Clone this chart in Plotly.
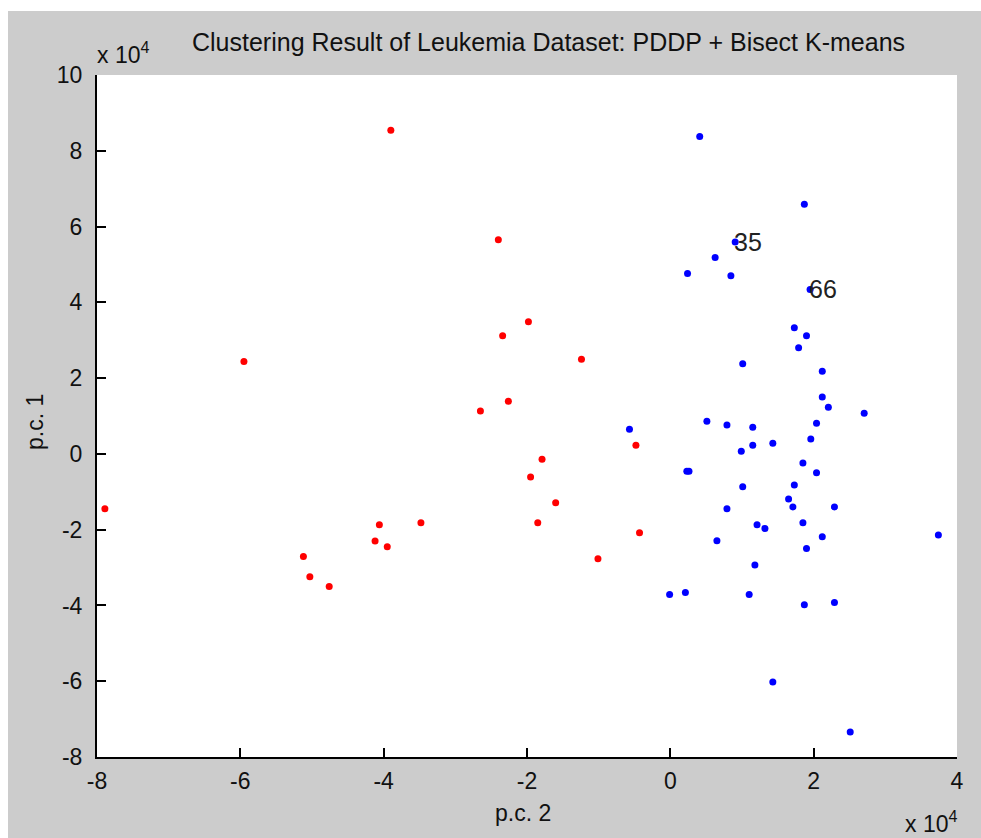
import plotly.graph_objects as go

# Leukemia samples projected on the first two principal components
# red: cluster 1, blue: cluster 2 (PDDP + bisecting K-means)
red_pc2 = [-3.90, -5.95, -7.89, -4.06, -4.12, -3.95, -5.12, -5.03, -4.76,
           -2.40, -1.98, -2.34, -1.24, -2.26, -2.65, -0.48, -1.79, -1.95,
           -1.60, -3.48, -1.85, -0.43, -1.01]
red_pc1 = [8.54, 2.44, -1.45, -1.87, -2.30, -2.45, -2.71, -3.24, -3.50,
           5.65, 3.49, 3.12, 2.50, 1.39, 1.13, 0.23, -0.14, -0.61,
           -1.29, -1.82, -1.82, -2.08, -2.77]

blue_pc2 = [0.41, 1.87, 0.905, 0.625, 0.24, 0.845, 1.95, 1.73, 1.90, 1.79,
            1.01, 2.12, 2.12, 2.205, 2.705, 2.04, 0.51, 0.79, 1.15, -0.57,
            1.43, 1.15, 0.99, 1.96, 1.85, 2.04, 0.23, 0.26, 1.01, 1.73,
            1.65, 1.71, 2.29, 0.79, 1.85, 1.21, 1.32, 2.12, 0.65, 1.90,
            1.18, -0.01, 0.21, 1.10, 1.87, 2.29, 1.43, 2.51, 3.74]
blue_pc1 = [8.38, 6.59, 5.59, 5.18, 4.76, 4.70, 4.34, 3.33, 3.12, 2.80,
            2.38, 2.18, 1.50, 1.23, 1.07, 0.81, 0.86, 0.76, 0.70, 0.65,
            0.28, 0.23, 0.07, 0.39, -0.24, -0.50, -0.46, -0.46, -0.87, -0.82,
            -1.19, -1.40, -1.40, -1.45, -1.82, -1.87, -1.97, -2.19, -2.29, -2.50,
            -2.93, -3.71, -3.66, -3.71, -3.98, -3.92, -6.02, -7.34, -2.14]

# labelled samples (index into the blue arrays)
labelled = {"35": 2, "66": 6}

x_ticks = [-8, -6, -4, -2, 0, 2, 4]
y_ticks = [-8, -6, -4, -2, 0, 2, 4, 6, 8, 10]

FONT = "Liberation Sans, Arial, Helvetica, sans-serif"
TXT = "#111111"

W, H = 981, 838
L, R, T, B = 97, 957, 75, 757


def px(x):
    return (x - L) / (R - L)


def py(y):
    return (B - y) / (B - T)


fig = go.Figure()
fig.add_trace(go.Scatter(x=red_pc2, y=red_pc1, mode="markers",
                         marker=dict(color="#ff0000", size=7, line=dict(width=0)),
                         hoverinfo="x+y"))
fig.add_trace(go.Scatter(x=blue_pc2, y=blue_pc1, mode="markers",
                         marker=dict(color="#0000ff", size=7, line=dict(width=0)),
                         hoverinfo="x+y"))

annotations = []
for name, i in labelled.items():
    annotations.append(dict(x=blue_pc2[i], y=blue_pc1[i], xref="x", yref="y",
                            text=name, showarrow=False, xanchor="left",
                            yanchor="middle", xshift=-3,
                            font=dict(family=FONT, size=25, color="#222222")))

annotations += [
    dict(x=px(548), y=py(42), xref="paper", yref="paper",
         text="Clustering Result of Leukemia Dataset: PDDP + Bisect K-means",
         showarrow=False, xanchor="center", yanchor="middle",
         font=dict(family=FONT, size=25, color=TXT)),
    dict(x=px(95), y=py(53), xref="paper", yref="paper",
         text="x 10<sup>4</sup>", showarrow=False, xanchor="left", yanchor="middle",
         font=dict(family=FONT, size=23, color=TXT)),
    dict(x=px(959), y=py(822), xref="paper", yref="paper",
         text="x 10<sup>4</sup>", showarrow=False, xanchor="right", yanchor="middle",
         font=dict(family=FONT, size=23, color=TXT)),
    dict(x=px(523), y=py(813), xref="paper", yref="paper",
         text="p.c. 2", showarrow=False, xanchor="center", yanchor="middle",
         font=dict(family=FONT, size=23, color=TXT)),
    dict(x=px(35), y=py(422), xref="paper", yref="paper",
         text="p.c. 1", showarrow=False, xanchor="center", yanchor="middle",
         textangle=-90, font=dict(family=FONT, size=23, color=TXT)),
]

axis_common = dict(showgrid=False, zeroline=False, showline=True,
                   linecolor="#000000", linewidth=2, mirror=False,
                   ticks="inside", ticklen=9, tickwidth=2, tickcolor="#000000",
                   tickfont=dict(family=FONT, size=23, color=TXT))

fig.update_layout(
    width=W, height=H,
    margin=dict(l=L, r=W - R, t=T, b=H - B, pad=0),
    paper_bgcolor="#cccccc", plot_bgcolor="#ffffff",
    showlegend=False,
    xaxis=dict(range=[-8, 4], tickvals=x_ticks, ticktext=[str(v) for v in x_ticks],
               ticklabelstandoff=2, **axis_common),
    yaxis=dict(range=[-8, 10], tickvals=y_ticks, ticktext=[str(v) for v in y_ticks],
               ticklabelstandoff=8, **axis_common),
    annotations=annotations,
    shapes=[
        # white strips framing the grey figure window
        dict(type="rect", xref="paper", yref="paper", layer="above",
             x0=px(-5), x1=px(W + 5), y0=py(11), y1=py(-5),
             fillcolor="#ffffff", line=dict(width=0)),
        dict(type="rect", xref="paper", yref="paper", layer="above",
             x0=px(-5), x1=px(8), y0=py(H + 5), y1=py(-5),
             fillcolor="#ffffff", line=dict(width=0)),
    ],
)

fig.write_html("out.html", config={"displayModeBar": False})
